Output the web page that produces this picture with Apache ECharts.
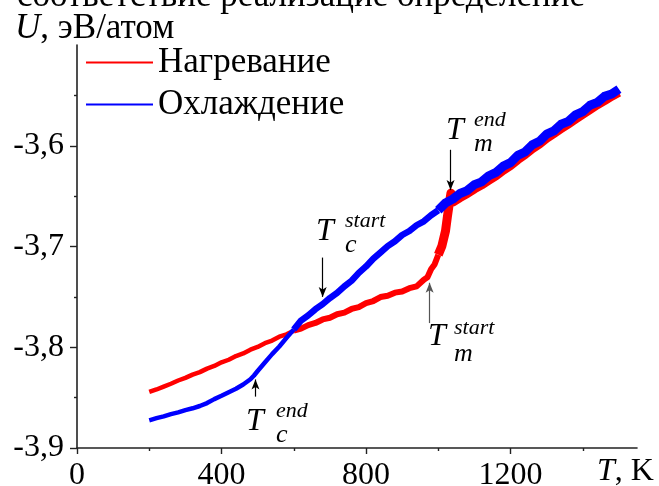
<!DOCTYPE html>
<html>
<head>
<meta charset="utf-8">
<script src="https://cdn.jsdelivr.net/npm/echarts@6/dist/echarts.min.js"></script>
<style>
html,body{margin:0;padding:0;background:#fff;}
#chart{width:659px;height:486px;}
</style>
</head>
<body>
<div id="chart"></div>
<script>
// ---- data ----
const heatT = [200,220,240,260,280,300,320,340,360,380,400,420,440,460,480,500,520,540,560,580,600,620,640,660,680,700,720,740,760,780,800,820,840,860,880,900,920,940,960,970,980,990,1000,1010,1020,1025,1030,1035,1040,1060,1080,1100,1120,1140,1160,1180,1200,1220,1240,1260,1280,1300,1320,1340,1360,1380,1400,1420,1440,1460,1480,1500];
const heatU = [-3.8444,-3.8419,-3.8390,-3.8362,-3.8330,-3.8304,-3.8272,-3.8247,-3.8212,-3.8186,-3.8150,-3.8124,-3.8087,-3.8061,-3.8024,-3.7997,-3.7960,-3.7934,-3.7895,-3.7872,-3.7835,-3.7815,-3.7780,-3.7759,-3.7724,-3.7707,-3.7672,-3.7656,-3.7620,-3.7601,-3.7562,-3.7541,-3.7502,-3.7489,-3.7458,-3.7447,-3.7414,-3.7396,-3.7330,-3.7306,-3.7225,-3.7175,-3.7082,-3.6995,-3.6845,-3.6710,-3.6585,-3.6470,-3.6560,-3.6515,-3.6475,-3.6428,-3.6388,-3.6343,-3.6298,-3.6243,-3.6195,-3.6138,-3.6088,-3.6030,-3.5982,-3.5925,-3.5878,-3.5830,-3.5783,-3.5735,-3.5688,-3.5640,-3.5593,-3.5552,-3.5508,-3.5470];
const coolT = [200,220,240,260,280,300,320,340,360,380,400,420,440,460,480,490,500,520,540,560,580,600,620,640,660,680,700,720,740,760,780,800,820,840,860,880,900,920,940,960,980,1000,1020,1040,1060,1080,1100,1120,1140,1160,1180,1200,1220,1240,1260,1280,1300,1320,1340,1360,1380,1400,1420,1440,1460,1480,1500];
const coolU = [-3.8725,-3.8704,-3.8686,-3.8664,-3.8646,-3.8624,-3.8606,-3.8583,-3.8554,-3.8515,-3.8482,-3.8446,-3.8412,-3.8370,-3.8318,-3.8280,-3.8236,-3.8152,-3.8068,-3.7992,-3.7906,-3.7824,-3.7735,-3.7684,-3.7622,-3.7572,-3.7512,-3.7460,-3.7395,-3.7340,-3.7262,-3.7198,-3.7122,-3.7060,-3.6996,-3.6948,-3.6886,-3.6846,-3.6789,-3.6750,-3.6690,-3.6640,-3.6568,-3.6530,-3.6474,-3.6445,-3.6386,-3.6358,-3.6298,-3.6265,-3.6202,-3.6168,-3.6096,-3.6062,-3.5991,-3.5956,-3.5884,-3.5852,-3.5786,-3.5758,-3.5693,-3.5662,-3.5598,-3.5570,-3.5510,-3.5486,-3.5438];

const seriesNames = ['Нагревание','Охлаждение'];
const xTicks = [0,400,800,1200];
const xTickLabels = ['0','400','800','1200'];
const xMinorTicks = [200,600,1000,1400];
const yTicks = [-3.9,-3.8,-3.7,-3.6];
const yTickLabels = ['-3,9','-3,8','-3,7','-3,6'];
const yAxisTitle = 'U';
const yAxisUnit = ', эВ/атом';
const xAxisTitle = 'T';
const xAxisUnit = ', K';
const topText = 'соответствие реализацие определение';
// annotation arrows: [T, U from, U to]
const arrowTmEnd = [1034, -3.604, -3.644];
const arrowTcStart = [680, -3.711, -3.750];
const arrowTmStart = [976, -3.776, -3.736];
const arrowTcEnd = [494, -3.849, -3.832];

// ---- chart ----
const FF = 'Liberation Serif';
const RED = '#ff0000', BLUE = '#0000ff';

function seg(T, U, lo, hi){
  const out = [];
  for (let i = 0; i < T.length; i++) if (T[i] >= lo && T[i] <= hi) out.push([T[i], U[i]]);
  return out;
}
function lineSeries(name, color, data, width, extra){
  return Object.assign({
    type:'line', name, data, showSymbol:false, symbol:'none',
    itemStyle:{color}, lineStyle:{color, width, join:'round'},
    emphasis:{disabled:true}, silent:true, z:2
  }, extra||{});
}
function arrow(a, color){
  return [{coord:[a[0],a[1]], symbol:'none', lineStyle:{color}}, {coord:[a[0],a[2]], symbol:'arrow', lineStyle:{color}}];
}

function txt(x, y, text, size, italic, rich){
  const st = {text, x, y, fontSize:size, fontFamily:FF, fontStyle: italic?'italic':'normal', fill:'#000', align:'left', verticalAlign:'middle'};
  if (rich) st.rich = rich;
  return {type:'text', style:st, silent:true, z:100};
}
const richI = {i:{fontStyle:'italic', fontSize:35, fontFamily:FF, fill:'#000'}};
const richIx = {i:{fontStyle:'italic', fontSize:32, fontFamily:FF, fill:'#000'}};

const chart = echarts.init(document.getElementById('chart'), null, {renderer:'canvas'});
chart.setOption({
  animation:false,
  backgroundColor:'#fff',
  textStyle:{fontFamily:FF},
  grid:{left:77, right:22, top:45, bottom:38, containLabel:false, outerBoundsMode:'none'},
  legend:{
    data:seriesNames, orient:'vertical', left:86, top:45, itemGap:7, padding:0,
    icon:'rect', itemWidth:67, itemHeight:2,
    textStyle:{fontSize:35, fontFamily:FF, color:'#000', lineHeight:35},
    selectedMode:false
  },
  xAxis:[{
    type:'value', min:0, max:1550, interval:200, position:'bottom',
    axisLine:{show:true, onZero:false, lineStyle:{color:'#222', width:1.6}},
    axisTick:{show:true, customValues:xTicks, length:6, lineStyle:{color:'#222', width:1.4}},
    axisLabel:{show:true, customValues:xTicks, margin:12, fontSize:32, fontFamily:FF, color:'#000', lineHeight:32,
      formatter:(v)=>{const k = xTicks.indexOf(v); return k>=0 ? xTickLabels[k] : '';}},
    splitLine:{show:false}
  },{
    type:'value', min:0, max:1550, interval:200, position:'bottom', gridIndex:0,
    axisLine:{show:false, onZero:false},
    axisTick:{show:true, customValues:xMinorTicks, length:3, lineStyle:{color:'#222', width:1.4}},
    axisLabel:{show:false}, splitLine:{show:false}
  }],
  yAxis:{
    type:'value', min:-3.9, max:-3.5, interval:0.1,
    axisLine:{show:true, onZero:false, lineStyle:{color:'#222', width:1.6}},
    axisTick:{show:true, customValues:yTicks, length:7, lineStyle:{color:'#222', width:1.4}},
    minorTick:{show:true, splitNumber:2, length:3, lineStyle:{color:'#222', width:1.4}},
    axisLabel:{show:true, customValues:yTicks, margin:13, fontSize:32, fontFamily:FF, color:'#000',
      formatter:(v)=>{let k=-1; yTicks.forEach((t,i)=>{ if (Math.abs(t-v)<1e-6) k=i; }); return k>=0 ? yTickLabels[k] : '';}},
    splitLine:{show:false}, minorSplitLine:{show:false}
  },
  series:[
    lineSeries(seriesNames[0], RED, seg(heatT, heatU, 200, 600), 4.5),
    lineSeries(seriesNames[0], RED, seg(heatT, heatU, 600, 1000), 6),
    lineSeries(seriesNames[0], RED, seg(heatT, heatU, 1000, 1500), 9),
    lineSeries(seriesNames[1], BLUE, seg(coolT, coolU, 200, 600), 4.5),
    lineSeries(seriesNames[1], BLUE, seg(coolT, coolU, 600, 1000), 6.5),
    lineSeries(seriesNames[1], BLUE, seg(coolT, coolU, 1000, 1500), 9, {
      markLine:{
        silent:true, symbol:['none','arrow'], symbolSize:[6,10], precision:4,
        label:{show:false}, emphasis:{disabled:true},
        lineStyle:{type:'solid', width:1.2, color:'#000'},
        data:[arrow(arrowTmEnd,'#000'), arrow(arrowTcStart,'#000'), arrow(arrowTmStart,'#555'), arrow(arrowTcEnd,'#000')]
      }
    })
  ],
  graphic:[
    txt(17, -3, topText, 35, false),
    txt(15, 29, '{i|'+yAxisTitle+'}'+yAxisUnit, 35, false, richI),
    txt(597, 472, '{i|'+xAxisTitle+'}'+xAxisUnit, 32, false, richIx),
    // T_m^end
    txt(446, 131, 'T', 32, true), txt(474, 120, 'end', 22, true), txt(474, 144, 'm', 26, true),
    // T_c^start
    txt(316, 232, 'T', 32, true), txt(345, 221, 'start', 22, true), txt(345, 245, 'c', 26, true),
    // T_m^start
    txt(428, 337, 'T', 32, true), txt(454, 328, 'start', 22, true), txt(454, 354, 'm', 26, true),
    // T_c^end
    txt(246, 422, 'T', 32, true), txt(276, 411, 'end', 22, true), txt(276, 435, 'c', 26, true)
  ]
});
</script>
</body>
</html>
